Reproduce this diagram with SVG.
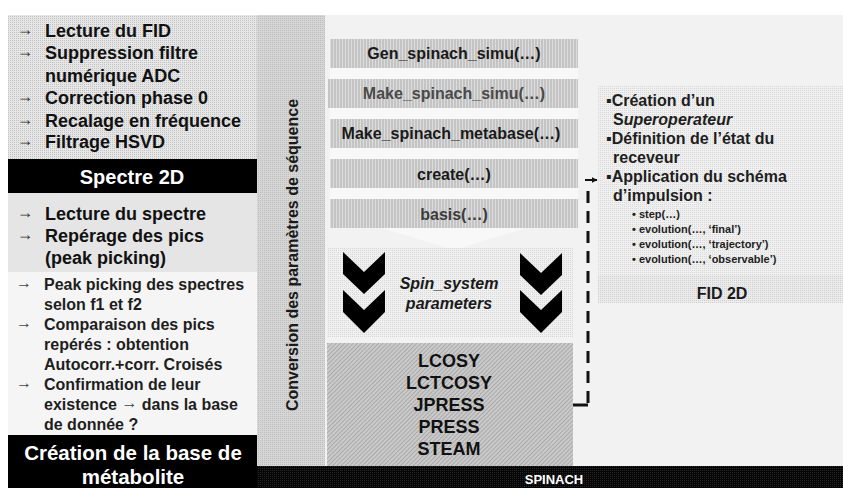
<svg xmlns="http://www.w3.org/2000/svg" width="843" height="488" viewBox="0 0 843 488">
<defs>
<pattern id="dotLeft" width="2" height="2" patternUnits="userSpaceOnUse"><rect width="2" height="2" fill="#e6e6e6"/><rect width="1" height="1" fill="#c2c2c2"/></pattern>
<pattern id="dotMid" width="2" height="2" patternUnits="userSpaceOnUse"><rect width="2" height="2" fill="#d6d6d6"/><rect width="1" height="1" fill="#bdbdbd"/></pattern>
<pattern id="dotLight" width="2" height="2" patternUnits="userSpaceOnUse"><rect width="2" height="2" fill="#f0f0f0"/><rect width="1" height="1" fill="#d8d8d8"/></pattern>
<pattern id="dotFid" width="2" height="2" patternUnits="userSpaceOnUse"><rect width="2" height="2" fill="#ebebeb"/><rect width="1" height="1" fill="#cfcfcf"/></pattern>
<pattern id="vstripe" width="3" height="4" patternUnits="userSpaceOnUse"><rect width="3" height="4" fill="#c4c4c4"/><rect width="1" height="4" fill="#dcdcdc"/></pattern>
<pattern id="diag" width="3" height="3" patternUnits="userSpaceOnUse" patternTransform="rotate(45)"><rect width="3" height="3" fill="#cacaca"/><rect width="1" height="3" fill="#a9a9a9"/></pattern>
<pattern id="dotBlack" width="2" height="2" patternUnits="userSpaceOnUse"><rect width="2" height="2" fill="#050505"/><rect width="1" height="1" fill="#262626"/></pattern>
<marker id="ah" viewBox="0 0 10 10" refX="9" refY="5" markerWidth="3" markerHeight="3" orient="auto" markerUnits="strokeWidth"><path d="M0,0 L10,5 L0,10 z" fill="#111"/></marker>
</defs>
<style>
text{font-family:"Liberation Sans",Arial,sans-serif;font-weight:bold;}
.l18{font-size:18px;fill:#111;}
.l16{font-size:16px;fill:#1e1e1e;}
.arr{font-weight:normal;fill:#333;}
.arrs{font-weight:normal;fill:#444;}
.wh{fill:#fff;text-anchor:middle;}
.fn{font-size:16px;text-anchor:middle;fill:#1a1a1a;}
.seq{font-size:18px;text-anchor:middle;fill:#111;}
.r16{font-size:16px;fill:#1e1e1e;}
.r11{font-size:11px;fill:#1e1e1e;}
.chev{fill:#000;}
</style>
<rect width="843" height="488" fill="#fff"/>

<g id="background">
<rect x="325" y="15" width="518" height="452" fill="#f2f2f2"/>
<polygon points="330,60 578,60 578,212 454,250 330,212" fill="#f8f8f8"/>
</g>

<g id="fid-processing">
<rect x="8" y="15" width="249" height="144" fill="url(#dotLeft)"/>
<text class="l18" y="37"><tspan class="arr" x="17" dy="-2" textLength="16" lengthAdjust="spacingAndGlyphs">→</tspan><tspan x="45" dy="2">Lecture du FID</tspan></text>
<text class="l18" y="59"><tspan class="arr" x="17" dy="-2" textLength="16" lengthAdjust="spacingAndGlyphs">→</tspan><tspan x="45" dy="2">Suppression  filtre</tspan></text>
<text class="l18" x="45" y="82">numérique ADC</text>
<text class="l18" y="104"><tspan class="arr" x="17" dy="-2" textLength="16" lengthAdjust="spacingAndGlyphs">→</tspan><tspan x="45" dy="2">Correction phase 0</tspan></text>
<text class="l18" y="127"><tspan class="arr" x="17" dy="-2" textLength="16" lengthAdjust="spacingAndGlyphs">→</tspan><tspan x="45" dy="2">Recalage en fréquence</tspan></text>
<text class="l18" y="148"><tspan class="arr" x="17" dy="-2" textLength="16" lengthAdjust="spacingAndGlyphs">→</tspan><tspan x="45" dy="2">Filtrage HSVD</tspan></text>
</g>

<g id="spectre-2d">
<rect x="8" y="159" width="249" height="34" fill="#000"/>
<text class="wh" x="132" y="184" font-size="20">Spectre 2D</text>
</g>

<g id="spectre-reading">
<rect x="8" y="193" width="249" height="79" fill="#e5e5e5"/>
<text class="l18" y="220"><tspan class="arr" x="17" dy="-2" textLength="16" lengthAdjust="spacingAndGlyphs">→</tspan><tspan x="45" dy="2">Lecture du spectre</tspan></text>
<text class="l18" y="242"><tspan class="arr" x="17" dy="-2" textLength="16" lengthAdjust="spacingAndGlyphs">→</tspan><tspan x="45" dy="2">Repérage des pics</tspan></text>
<text class="l18" x="45" y="264">(peak picking)</text>
</g>

<g id="peak-analysis">
<rect x="8" y="272" width="249" height="163" fill="#f5f5f5"/>
<text class="l16" y="290"><tspan class="arrs" x="16" dy="-2">→</tspan><tspan x="44" dy="2">Peak picking des spectres</tspan></text>
<text class="l16" x="44" y="310">selon f1 et f2</text>
<text class="l16" y="330"><tspan class="arrs" x="16" dy="-2">→</tspan><tspan x="44" dy="2">Comparaison des pics</tspan></text>
<text class="l16" x="44" y="350">repérés : obtention</text>
<text class="l16" x="44" y="370">Autocorr.+corr.  Croisés</text>
<text class="l16" y="390"><tspan class="arrs" x="16" dy="-2">→</tspan><tspan x="44" dy="2">Confirmation de leur</tspan></text>
<text class="l16" x="44" y="410">existence <tspan class="arrs" dy="-2">→</tspan><tspan dy="2"> dans la base</tspan></text>
<text class="l16" x="44" y="430">de donnée ?</text>
</g>

<g id="metabase-creation">
<rect x="8" y="435" width="249" height="53" fill="#000"/>
<text class="wh" x="133" y="460" font-size="20.5">Création de la base de</text>
<text class="wh" x="133" y="484" font-size="20.5">métabolite</text>
</g>

<g id="conversion">
<rect x="257" y="15" width="68" height="452" fill="url(#dotMid)"/>
<text x="298" y="255" font-size="16" fill="#1a1a1a" text-anchor="middle" transform="rotate(-90 298 255)">Conversion des paramètres de séquence</text>
</g>

<g id="gen-spinach-simu">
<rect x="330" y="39" width="248" height="29" fill="url(#vstripe)"/>
<text class="fn" x="454" y="59">Gen_spinach_simu(…)</text>
</g>
<g id="make-spinach-simu">
<rect x="328" y="79" width="250" height="29" fill="url(#vstripe)"/>
<text class="fn" x="454" y="99" style="fill:#4a4a4a">Make_spinach_simu(…)</text>
</g>
<g id="make-spinach-metabase">
<rect x="330" y="119" width="248" height="29" fill="url(#vstripe)"/>
<text class="fn" x="451" y="139">Make_spinach_metabase(…)</text>
</g>
<g id="create">
<rect x="330" y="159" width="248" height="29" fill="url(#vstripe)"/>
<text class="fn" x="454" y="180">create(…)</text>
</g>
<g id="basis">
<rect x="330" y="199" width="248" height="29" fill="url(#vstripe)"/>
<text class="fn" x="454" y="220" style="fill:#3c3c3c">basis(…)</text>
</g>

<g id="spin-system">
<rect x="327" y="248" width="246" height="89" fill="url(#dotLight)"/>
<polygon class="chev" points="343,252 364,272 385,252 385,274 364,294 343,274"/>
<polygon class="chev" points="343,290 364,310 385,290 385,312 364,333 343,312"/>
<polygon class="chev" points="520,253 541,273 562,253 562,275 541,295 520,275"/>
<polygon class="chev" points="520,290 541,310 562,290 562,312 541,333 520,312"/>
<text x="449" y="289" font-size="16" font-style="italic" text-anchor="middle" fill="#1a1a1a">Spin_system</text>
<text x="449" y="309" font-size="16" font-style="italic" text-anchor="middle" fill="#1a1a1a">parameters</text>
</g>

<g id="sequences">
<rect x="327" y="343" width="246" height="123" fill="url(#diag)"/>
<text class="seq" x="449" y="367">LCOSY</text>
<text class="seq" x="449" y="389">LCTCOSY</text>
<text class="seq" x="449" y="411">JPRESS</text>
<text class="seq" x="449" y="433">PRESS</text>
<text class="seq" x="449" y="455">STEAM</text>
</g>

<g id="fid-2d">
<rect x="598" y="85" width="245" height="190" fill="url(#dotLight)"/>
<rect x="598" y="275" width="245" height="28" fill="url(#dotFid)"/>
<text class="r16" x="606" y="106">▪Création d’un</text>
<text class="r16" x="613" y="125">S<tspan font-style="italic">uperoperateur</tspan></text>
<text class="r16" x="606" y="144">▪Définition de l’état du</text>
<text class="r16" x="613" y="163">receveur</text>
<text class="r16" x="606" y="182">▪Application du schéma</text>
<text class="r16" x="613" y="201">d’impulsion :</text>
<text class="r11" x="632" y="218">• step(…)</text>
<text class="r11" x="632" y="233">• evolution(…, ‘final’)</text>
<text class="r11" x="632" y="248">• evolution(…, ‘trajectory’)</text>
<text class="r11" x="632" y="263">• evolution(…, ‘observable’)</text>
<text x="722" y="299" font-size="16" text-anchor="middle" fill="#1a1a1a">FID 2D</text>
</g>

<g id="spinach">
<rect x="257" y="466" width="586" height="22" fill="url(#dotBlack)"/>
<text x="554" y="484" font-size="13" text-anchor="middle" fill="#fff">SPINACH</text>
</g>

<g id="connectors" fill="none" stroke="#111" stroke-width="3">
<path d="M573,405 H588"/>
<path d="M588,403 V187" stroke-dasharray="12 8"/>
<path d="M585,180 H597" stroke-width="2" marker-end="url(#ah)"/>
</g>
</svg>
